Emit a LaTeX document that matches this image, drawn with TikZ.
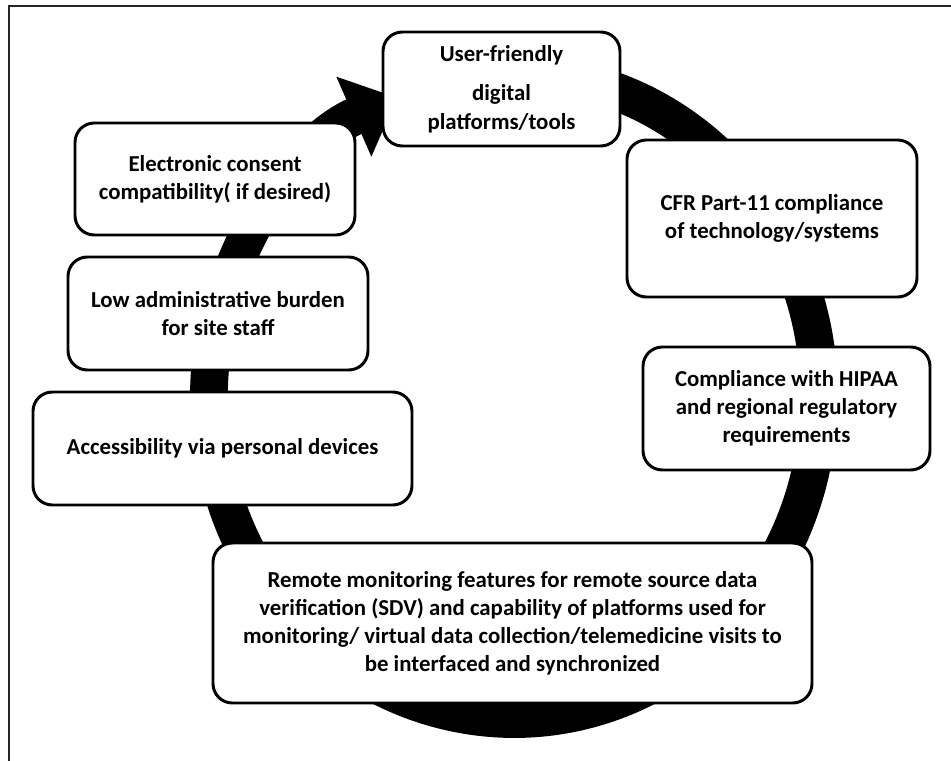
\documentclass[tikz,border=0pt]{standalone}
\usepackage{fontspec}
\setmainfont{Carlito}
\usetikzlibrary{arrows.meta}
\newcommand\pxu{0.02cm}

\begin{document}
\begin{tikzpicture}[x=0.02cm,y=-0.02cm,font=\bfseries\fontsize{13}{16}\selectfont,
box/.style={draw,line width=1.7pt,rounded corners=11pt,fill=white,align=center,inner sep=0pt},
ring/.style={line width=21.5pt,-{Triangle[width=48pt,length=27pt]}}]
\useasboundingbox (0,0) rectangle (951,761);
\draw[black!85,line width=0.8pt] (9,761) -- (9,6) -- (951,6);
% the cycle ring, clockwise, tip under the first box
\coordinate (ctr) at (514,396);
\draw[ring] (ctr) ++(-80:305 and 323) arc[start angle=-80,end angle=247.5,x radius=305,y radius=323];
\node[box,minimum width=237*\pxu,minimum height=114*\pxu] (uf) at (501.5,89) {User-friendly\\[6.5pt]digital\\platforms/tools};
\node[box,minimum width=290*\pxu,minimum height=157*\pxu] (cfr) at (772,218.5) {CFR Part-11 compliance\\of technology/systems};
\node[box,minimum width=287*\pxu,minimum height=123*\pxu] (hipaa) at (786.5,408.5) {Compliance with HIPAA\\and regional regulatory\\requirements};
\node[box,minimum width=599*\pxu,minimum height=160*\pxu] (remote) at (512.5,623) {Remote monitoring features for remote source data\\verification (SDV) and capability of platforms used for\\monitoring/ virtual data collection/telemedicine visits to\\be interfaced and synchronized};
\node[box,minimum width=379*\pxu,minimum height=113*\pxu] (access) at (222.5,448.5) {Accessibility via personal devices};
\node[box,minimum width=300*\pxu,minimum height=113*\pxu] (admin) at (218,313.5) {Low administrative burden\\for site staff};
\node[box,minimum width=280*\pxu,minimum height=112*\pxu] (econ) at (215,179) {Electronic consent\\compatibility( if desired)};
\end{tikzpicture}
\end{document}
